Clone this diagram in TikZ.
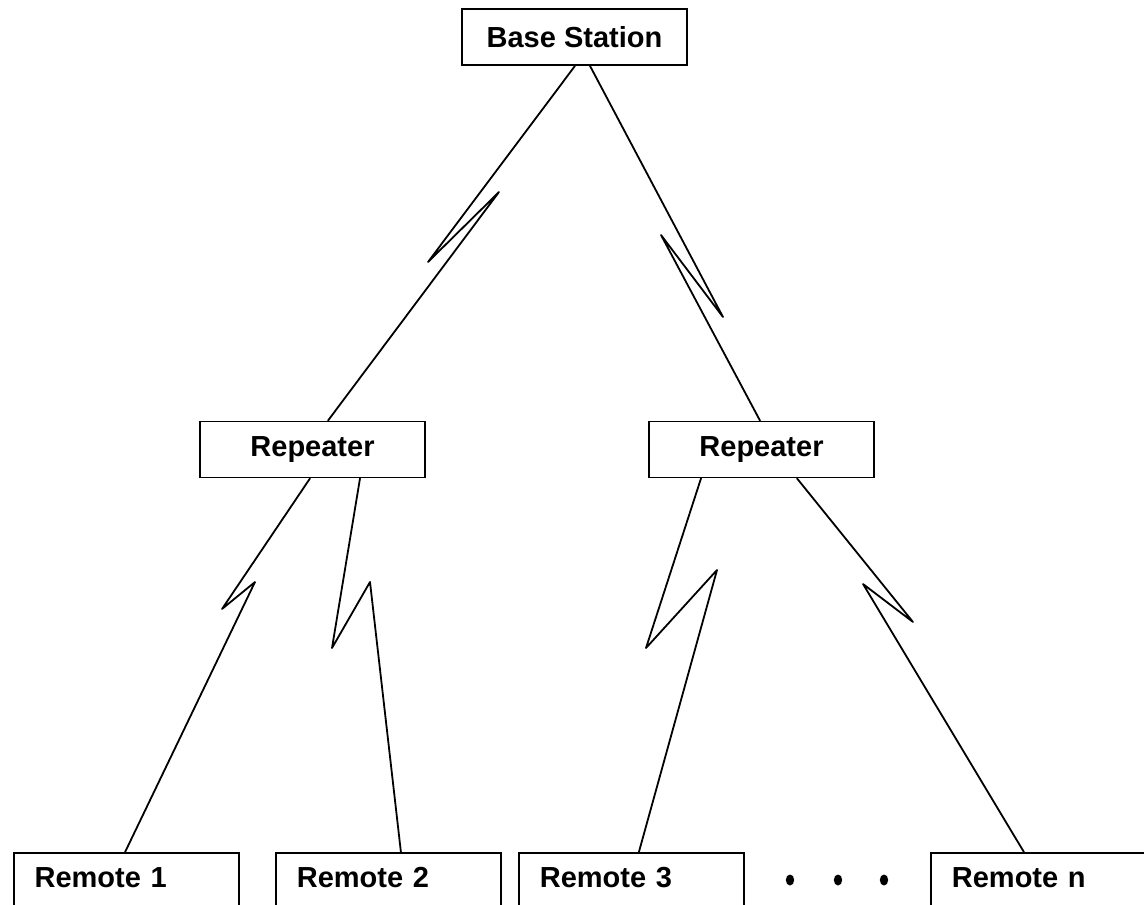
\documentclass[tikz,border=0pt]{standalone}
\usepackage{fontspec}
\setmainfont{Liberation Sans}
\begin{document}
\begin{tikzpicture}[x=1pt,y=-1pt,line width=1.8pt,
  box/.style={draw, rectangle, inner sep=0pt, minimum width=225pt, minimum height=56pt,
              font=\fontsize{29}{34}\selectfont\bfseries},
  remote/.style={box, anchor=north west, minimum height=56pt, text width=183pt,
                 align=left, text depth=7pt},
  link/.style={line join=round, line cap=round}]
  \clip (0,0) rectangle (1144,905);
  \fill[white] (0,0) rectangle (1144,905);

  % stations
  \node[box] (bs)   at (574.5,37)  {Base Station};
  \node[box] (repL) at (312.5,449.5) {Repeater};
  \node[box] (repR) at (761.5,449.5) {Repeater};

  \node[remote] (r1) at (12.7,852) {Remote 1};
  \node[remote] (r2) at (275,852)  {Remote 2};
  \node[remote] (r3) at (518,852)  {Remote 3};
  \node[remote] (rn) at (930,852)  {Remote n};

  % zigzag corners of the radio links
  \coordinate (a1) at (428,262);  \coordinate (a2) at (499,192);
  \coordinate (b1) at (723,317);  \coordinate (b2) at (661,235);
  \coordinate (c1) at (222,609);  \coordinate (c2) at (255,582);
  \coordinate (d1) at (332,648);  \coordinate (d2) at (370,582);
  \coordinate (e1) at (646,648);  \coordinate (e2) at (717,570);
  \coordinate (f1) at (913,622);  \coordinate (f2) at (863,584);

  % radio links
  \draw[link] ([xshift=0.5pt]bs.south) -- (a1) -- (a2) -- ([xshift=15.5pt]repL.north);
  \draw[link] ([xshift=15.5pt]bs.south) -- (b1) -- (b2) -- ([xshift=-1.5pt]repR.north);
  \draw[link] ([xshift=-2.5pt]repL.south) -- (c1) -- (c2) -- ([xshift=-1pt]r1.north);
  \draw[link] ([xshift=47.5pt]repL.south) -- (d1) -- (d2) -- ([xshift=12.5pt]r2.north);
  \draw[link] ([xshift=-60.5pt]repR.south) -- (e1) -- (e2) -- ([xshift=7.5pt]r3.north);
  \draw[link] ([xshift=35.5pt]repR.south) -- (f1) -- (f2) -- ([xshift=-19.5pt]rn.north);

  % ellipsis between the remotes
  \fill (790,880) ellipse (4.2 and 5.5);
  \fill (838,880) ellipse (4.2 and 5.5);
  \fill (884,880) ellipse (4.2 and 5.5);
\end{tikzpicture}
\end{document}
